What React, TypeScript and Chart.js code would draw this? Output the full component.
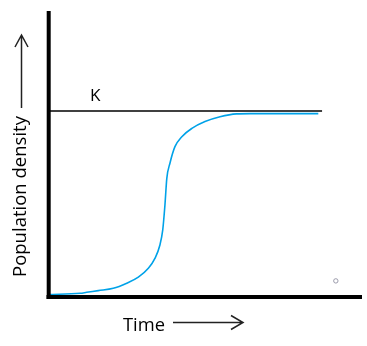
import React, { useEffect, useRef } from "react";
import { Chart, registerables } from "chart.js";

Chart.register(...registerables);

// Logistic growth curve (time and density in arbitrary 0-100 units)
const timeValues = [0, 10.1, 12.2, 15.9, 20.7, 25.0, 28.7, 31.9, 34.0, 35.6, 36.5, 37.2, 37.8, 38.8, 40.4, 42.6, 45.8, 50.0, 54.8, 60.1, 64.4, 86.2];
const densityValues = [0.5, 0.95, 1.3, 1.9, 2.7, 4.5, 6.6, 9.7, 13.2, 17.9, 23.2, 31.9, 41.3, 46.6, 52.4, 55.9, 58.8, 61.2, 62.9, 63.9, 64.0, 64.0];

// Carrying capacity line
const carryingCapacity = 64.9;
const kLineTimes = [0, 87.4];
const kLabel = "K";

// Stray small circle
const strayPoint = { x: 91.8, y: 5.3 };

const xAxisTitle = "Time";
const yAxisTitle = "Population density";

function fitFont(ctx: CanvasRenderingContext2D, text: string, target: number, family: string) {
  let size = 16;
  ctx.font = `${size}px ${family}`;
  const w = ctx.measureText(text).width;
  size = (size * target) / w;
  return `${size.toFixed(2)}px ${family}`;
}

export default function App() {
  const ref = useRef<HTMLCanvasElement | null>(null);

  useEffect(() => {
    document.body.style.margin = "0";
    const canvas = ref.current;
    if (!canvas) return;
    const family = '"Open Sans", "Noto Sans", sans-serif';

    const decorations = {
      id: "decorations",
      afterDatasetsDraw(chart: any) {
        const { ctx, chartArea } = chart;
        const { left, right, top, bottom } = chartArea;
        ctx.save();
        // axis lines
        ctx.strokeStyle = "#000";
        ctx.lineWidth = 4;
        ctx.lineCap = "butt";
        ctx.beginPath();
        ctx.moveTo(left + 0.2, top);
        ctx.lineTo(left + 0.2, bottom + 3);
        ctx.stroke();
        ctx.beginPath();
        ctx.moveTo(left - 2, bottom + 1);
        ctx.lineTo(right + 0.5, bottom + 1);
        ctx.stroke();

        // K label
        ctx.fillStyle = "#000";
        ctx.textBaseline = "alphabetic";
        ctx.textAlign = "left";
        ctx.font = fitFont(ctx, kLabel, 10.5, family);
        ctx.fillText(kLabel, 90, 100.7);

        // x axis title + arrow
        ctx.font = fitFont(ctx, xAxisTitle, 42, family);
        ctx.fillText(xAxisTitle, 123, 330.5);
        ctx.lineWidth = 1.5;
        ctx.strokeStyle = "#222";
        ctx.beginPath();
        ctx.moveTo(173, 322.5);
        ctx.lineTo(243, 322.5);
        ctx.moveTo(231, 315.5);
        ctx.lineTo(243, 322.5);
        ctx.lineTo(231, 329.5);
        ctx.stroke();

        // y axis title + arrow
        ctx.save();
        ctx.translate(26, 277);
        ctx.rotate(-Math.PI / 2);
        ctx.font = fitFont(ctx, yAxisTitle, 161, family);
        ctx.fillText(yAxisTitle, 0, 0);
        ctx.restore();
        ctx.beginPath();
        ctx.moveTo(21.5, 108);
        ctx.lineTo(21.5, 35);
        ctx.moveTo(15, 47);
        ctx.lineTo(21.5, 35);
        ctx.lineTo(28, 47);
        ctx.stroke();
        ctx.restore();
      },
    };

    const chart = new Chart(canvas, {
      type: "scatter",
      data: {
        datasets: [
          {
            data: timeValues.map((t, i) => ({ x: t, y: densityValues[i] })),
            showLine: true,
            borderColor: "#00A2E8",
            borderWidth: 1.6,
            pointRadius: 0,
            cubicInterpolationMode: "monotone",
            fill: false,
          },
          {
            data: kLineTimes.map((t) => ({ x: t, y: carryingCapacity })),
            showLine: true,
            borderColor: "#000",
            borderWidth: 1.5,
            pointRadius: 0,
          },
          {
            data: [strayPoint],
            showLine: false,
            pointRadius: 2.2,
            pointBorderWidth: 1,
            borderColor: "#9a9aaa",
            backgroundColor: "#fff",
          },
        ],
      },
      options: {
        animation: false,
        responsive: false,
        events: [],
        layout: { padding: { left: 48.5, right: 5.5, top: 11, bottom: 50 } },
        plugins: { legend: { display: false }, tooltip: { enabled: false } },
        scales: {
          x: { type: "linear", min: 0, max: 100, display: false },
          y: { type: "linear", min: 0, max: 100, display: false },
        },
      },
      plugins: [decorations],
    } as any);
    return () => chart.destroy();
  }, []);

  return (
    <div style={{ width: 367, height: 346 }}>
      <canvas ref={ref} width={367} height={346} style={{ display: "block" }} />
    </div>
  );
}
